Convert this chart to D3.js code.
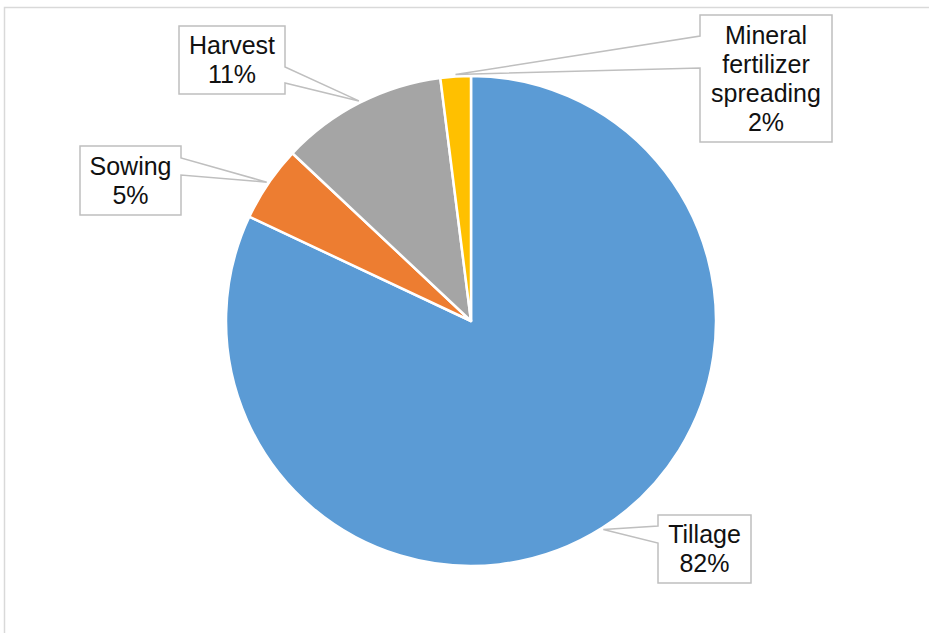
<!DOCTYPE html>
<html>
<head>
<meta charset="utf-8">
<script src="https://cdn.jsdelivr.net/npm/d3@7/dist/d3.min.js"></script>
<style>
  html, body { margin: 0; padding: 0; background: #fff; }
  svg { display: block; }
</style>
</head>
<body>
<svg id="chart" width="929" height="633"></svg>
<script>
// Share of energy use by field operation
const categories = ["Tillage", "Sowing", "Harvest", "Mineral fertilizer spreading"];
const shares = [82, 5, 11, 2];
const colors = ["#5B9BD5", "#ED7D31", "#A5A5A5", "#FFC000"];
// Label text lines (category wrapped as in the callouts)
const labelLines = [["Tillage"], ["Sowing"], ["Harvest"], ["Mineral", "fertilizer", "spreading"]];

// Callout boxes: box geometry and the side / span of the pointer base
const callouts = [
  { x: 658, y: 515, w: 93, h: 68, side: "left",  b0: 11, b1: 28 },
  { x: 80,  y: 146, w: 101, h: 69, side: "right", b0: 12, b1: 29 },
  { x: 179, y: 26,  w: 106, h: 68, side: "right", b0: 41, b1: 57 },
  { x: 700, y: 15,  w: 132, h: 127, side: "left", b0: 21, b1: 53 }
];

const svg = d3.select("#chart");
const cx = 471, cy = 321, r = 245;

// Chart area frame
svg.append("rect")
  .attr("x", 4.5).attr("y", 7.5)
  .attr("width", 1200).attr("height", 1200)
  .attr("fill", "#fff")
  .attr("stroke", "#d9d9d9")
  .attr("stroke-width", 1.5);

const data = categories.map((c, i) => ({ name: c, value: shares[i], color: colors[i], lines: labelLines[i], box: callouts[i] }));

const pie = d3.pie().value(d => d.value).sort(null).startAngle(0).endAngle(2 * Math.PI);
const arcs = pie(data);
const arc = d3.arc().innerRadius(0).outerRadius(r);

const g = svg.append("g").attr("transform", `translate(${cx},${cy})`);
g.selectAll("path.slice")
  .data(arcs)
  .join("path")
  .attr("class", "slice")
  .attr("d", arc)
  .attr("fill", d => d.data.color)
  .attr("stroke", "#fff")
  .attr("stroke-width", 2.5)
  .attr("stroke-linejoin", "round");

// Callout labels pointing to each slice's outer edge
const fontSize = 25, lineH = 29;
arcs.forEach(a => {
  const b = a.data.box;
  const mid = (a.startAngle + a.endAngle) / 2;
  const ar = r + 2;
  const ax = cx + ar * Math.sin(mid);
  const ay = cy - ar * Math.cos(mid);
  const x0 = b.x, x1 = b.x + b.w, y0 = b.y, y1 = b.y + b.h;
  let p;
  if (b.side === "right") {
    p = `M${x0},${y0}H${x1}V${y0 + b.b0}L${ax},${ay}L${x1},${y0 + b.b1}V${y1}H${x0}Z`;
  } else {
    p = `M${x0},${y0}H${x1}V${y1}H${x0}V${y0 + b.b1}L${ax},${ay}L${x0},${y0 + b.b0}Z`;
  }
  svg.append("path")
    .attr("d", p)
    .attr("fill", "#fff")
    .attr("stroke", "#bfbfbf")
    .attr("stroke-width", 1.5)
    .attr("stroke-linejoin", "miter");

  const lines = a.data.lines.concat([d3.format(".0f")(a.data.value) + "%"]);
  const blockH = lines.length * lineH;
  const first = y0 + (b.h - blockH) / 2 + 23;
  const t = svg.append("text")
    .attr("font-family", "'Liberation Sans', Arial, sans-serif")
    .attr("font-size", fontSize)
    .attr("fill", "#111")
    .attr("text-anchor", "middle");
  lines.forEach((ln, i) => {
    t.append("tspan").attr("x", x0 + b.w / 2).attr("y", first + i * lineH).text(ln);
  });
});
</script>
</body>
</html>
